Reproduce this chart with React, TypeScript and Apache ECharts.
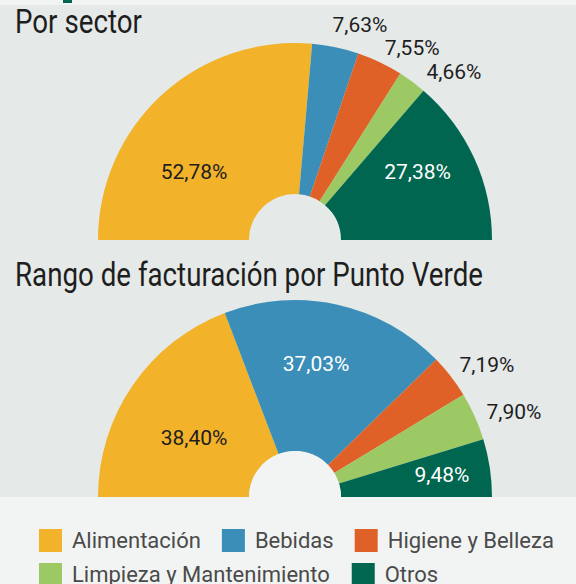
import React, { useEffect, useRef } from 'react';
import * as echarts from 'echarts';

const categories = ['Alimentación', 'Bebidas', 'Higiene y Belleza', 'Limpieza y Mantenimiento', 'Otros'];
const sectorValues = [52.78, 7.63, 7.55, 4.66, 27.38];
const revenueValues = [38.4, 37.03, 7.19, 7.9, 9.48];
const titles = ['Por sector', 'Rango de facturación por Punto Verde'];
const legendRows = [categories.slice(0, 3), categories.slice(3)];

const COLORS = ['#f2b22a', '#3a8eb8', '#e06127', '#9cc964', '#006650'];
const BG = '#e5e9e8';
const LIGHT = '#f2f4f3';
const DARK = '#1e1e1e';
const FONT = "Roboto, sans-serif";

// label placement around each pie centre: [angle in degrees, distance in px]
const sectorLabelPos = [[146.0, 121.8], [73.2, 224.6], [58.6, 224.8], [46.6, 231.3], [29.0, 140.1]];
const revenueLabelPos = [[149.5, 117.2], [81.0, 134.6], [34.5, 233], [21.2, 234.9], [8.5, 148.6]];
const sectorLabelColor = [DARK, DARK, DARK, DARK, '#ffffff'];
const revenueLabelColor = [DARK, '#ffffff', DARK, DARK, '#ffffff'];

const TOP_CENTER = [295, 240];
const BOTTOM_CENTER = [295, 497];
const R_OUT = 197;
const R_IN = 46;

const fmt = (v: number) => v.toFixed(2).replace('.', ',') + '%';

function halfDonut(values: number[], center: number[], labelPos: number[][], labelColors: string[]) {
  return {
    type: 'pie',
    center,
    radius: [R_IN, R_OUT],
    startAngle: 180,
    endAngle: 0,
    clockwise: true,
    avoidLabelOverlap: false,
    silent: true,
    itemStyle: { borderWidth: 0 },
    label: {
      show: true,
      position: 'inside',
      fontFamily: FONT,
      fontSize: 21,
      formatter: (p: any) => fmt(p.value),
    },
    labelLine: { show: false },
    labelLayout: (params: any) => {
      const [a, r] = labelPos[params.dataIndex];
      const rad = (a * Math.PI) / 180;
      return {
        x: center[0] + r * Math.cos(rad),
        y: center[1] - r * Math.sin(rad),
        align: 'center',
        verticalAlign: 'middle',
      };
    },
    data: values.map((v, i) => ({
      name: categories[i],
      value: v,
      itemStyle: { color: COLORS[i] },
      label: { color: labelColors[i] },
    })),
  };
}

function titleText(text: string, y: number) {
  return {
    type: 'text',
    x: 15,
    y,
    scaleX: 0.84,
    z: 5,
    style: {
      text,
      fontFamily: FONT,
      fontSize: 33,
      fill: DARK,
      verticalAlign: 'middle',
      align: 'left',
    },
  };
}

function legendRow(data: string[], top: number, gap: number) {
  return {
    data,
    left: 39,
    top,
    padding: 0,
    itemWidth: 23,
    itemHeight: 23,
    itemGap: gap,
    icon: 'rect',
    selectedMode: false,
    textStyle: {
      fontFamily: FONT,
      fontSize: 22,
      color: '#4a4a4a',
      padding: [0, 0, 0, 5],
    },
  };
}

export default function App() {
  const ref = useRef<HTMLDivElement>(null);
  useEffect(() => {
    document.body.style.margin = '0';
    const chart = echarts.init(ref.current!, null, { renderer: 'svg' });
    chart.setOption({
      animation: false,
      backgroundColor: BG,
      graphic: [
        { type: 'rect', shape: { x: 0, y: 0, width: 576, height: 5 }, style: { fill: LIGHT }, z: 0 },
        { type: 'rect', shape: { x: 63, y: 0, width: 9, height: 3 }, style: { fill: '#006650' }, z: 1 },
        { type: 'rect', shape: { x: 0, y: 497, width: 576, height: 87 }, style: { fill: LIGHT }, z: 0 },
        titleText(titles[0], 21.5),
        titleText(titles[1], 274.5),
      ],
      legend: [legendRow(legendRows[0], 529, 21), legendRow(legendRows[1], 563, 22)],
      series: [
        halfDonut(sectorValues, TOP_CENTER, sectorLabelPos, sectorLabelColor),
        halfDonut(revenueValues, BOTTOM_CENTER, revenueLabelPos, revenueLabelColor),
        {
          type: 'pie',
          center: BOTTOM_CENTER,
          radius: [0, R_IN],
          startAngle: 180,
          endAngle: 0,
          silent: true,
          label: { show: false },
          labelLine: { show: false },
          itemStyle: { borderWidth: 0, color: LIGHT },
          data: [{ name: 'hueco', value: 1 }],
        },
      ],
    });
    return () => chart.dispose();
  }, []);
  return <div ref={ref} style={{ width: 576, height: 584 }} />;
}
